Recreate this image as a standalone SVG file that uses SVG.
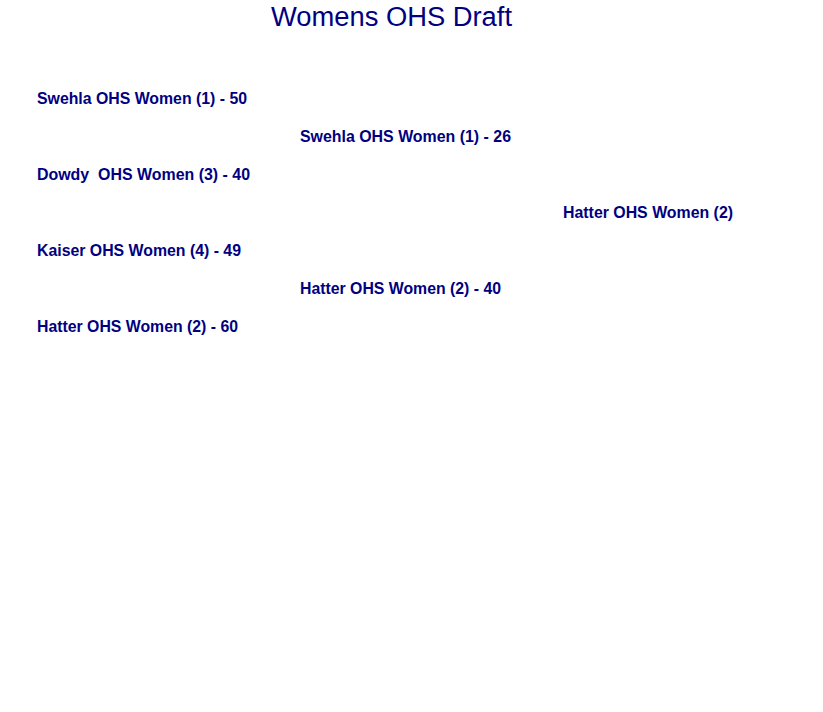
<svg xmlns="http://www.w3.org/2000/svg" width="823" height="712" viewBox="0 0 823 712">
<style>
.t{font-family:"Liberation Sans",Arial,sans-serif;font-size:16px;font-weight:bold;fill:#000080;white-space:pre}
.title{font-family:"Liberation Sans",Arial,sans-serif;font-size:27px;fill:#000080}
</style>
<rect width="823" height="712" fill="#ffffff"/>
<text class="title" x="271" y="26" textLength="241" lengthAdjust="spacingAndGlyphs">Womens OHS Draft</text>
<g id="connectors"></g>
<g id="r1-m1"><text class="t" x="37" y="104" textLength="210" lengthAdjust="spacingAndGlyphs">Swehla OHS Women (1) - 50</text></g>
<g id="r1-m2"><text class="t" x="37" y="180" xml:space="preserve" textLength="213" lengthAdjust="spacingAndGlyphs">Dowdy  OHS Women (3) - 40</text></g>
<g id="r1-m3"><text class="t" x="37" y="256" textLength="204" lengthAdjust="spacingAndGlyphs">Kaiser OHS Women (4) - 49</text></g>
<g id="r1-m4"><text class="t" x="37" y="332" textLength="201" lengthAdjust="spacingAndGlyphs">Hatter OHS Women (2) - 60</text></g>
<g id="r2-m1"><text class="t" x="300" y="142" textLength="211" lengthAdjust="spacingAndGlyphs">Swehla OHS Women (1) - 26</text></g>
<g id="r2-m2"><text class="t" x="300" y="294" textLength="201" lengthAdjust="spacingAndGlyphs">Hatter OHS Women (2) - 40</text></g>
<g id="winner"><text class="t" x="563" y="218" textLength="170" lengthAdjust="spacingAndGlyphs">Hatter OHS Women (2)</text></g>
</svg>
